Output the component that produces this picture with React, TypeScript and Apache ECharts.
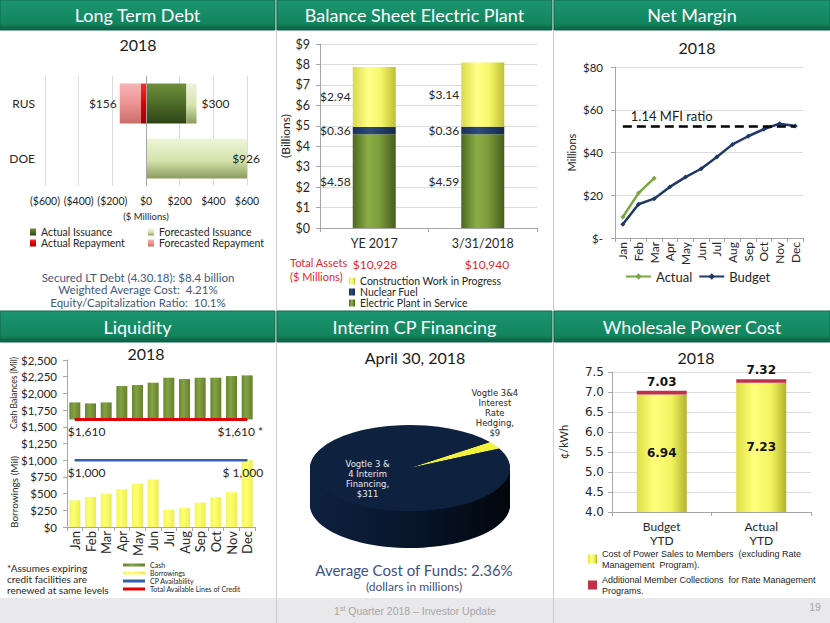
import React, { useEffect, useRef } from "react";
import * as echarts from "echarts";

// ---------- Long Term Debt ($ millions) ----------
const debtCategories = ["RUS", "DOE"];
const actualIssuance = [240, 0];
const forecastedIssuance = [60, 926];
const actualRepayment = [-30, 0];
const forecastedRepayment = [-126, 0];

// ---------- Balance Sheet Electric Plant ($ billions) ----------
const plantCategories = ["YE 2017", "3/31/2018"];
const electricPlantInService = [4.58, 4.59];
const nuclearFuel = [0.36, 0.36];
const constructionWork = [2.94, 3.14];
const totalAssets = ["$10,928", "$10,940"];

// ---------- Net Margin ($ millions) ----------
const months = ["Jan", "Feb", "Mar", "Apr", "May", "Jun", "Jul", "Aug", "Sep", "Oct", "Nov", "Dec"];
const netMarginActual = [9.8, 21.0, 28.0];
const netMarginBudget = [6.4, 15.8, 18.4, 23.9, 28.5, 32.4, 37.9, 43.8, 47.6, 50.9, 53.5, 52.4];
const mfiRatioLevel = 52.3;

// ---------- Liquidity ($ millions) ----------
const cashBalances = [1865, 1850, 1865, 2110, 2125, 2160, 2235, 2215, 2235, 2235, 2260, 2270];
const borrowings = [400, 450, 500, 565, 650, 710, 260, 285, 365, 445, 520, 1000];
const cpAvailability = [1000, 1000, 1000, 1000, 1000, 1000, 1000, 1000, 1000, 1000, 1000, 1000];
const creditLines = [1610, 1610, 1610, 1610, 1610, 1610, 1610, 1610, 1610, 1610, 1610, 1610];

// ---------- Interim CP Financing ($ millions) ----------
const cpLabels = ["Vogtle 3&4\nInterest\nRate\nHedging,", "Vogtle 3 &\n4 Interim\nFinancing,"];
const cpValues = [9, 311];

// ---------- Wholesale Power Cost (cents/kWh) ----------
const powerCategories = ["Budget\nYTD", "Actual\nYTD"];
const powerCost = [6.94, 7.23];
const rateManagement = [0.09, 0.09];

const F = "Lato, 'Noto Sans', sans-serif";
const V = "'DejaVu Sans', Verdana, sans-serif";
const A = "'Liberation Sans', Arial, sans-serif";
const AX = "#262626";

function lg(stops: [number, string][], horizontal = false): any {
  return {
    type: "linear",
    x: 0,
    y: 0,
    x2: horizontal ? 1 : 0,
    y2: horizontal ? 0 : 1,
    colorStops: stops.map(([offset, color]) => ({ offset, color })),
  };
}

function txt(x: number, y: number, text: string, font: string, fill: string, align = "center", extra: any = {}) {
  return {
    type: "text",
    x,
    y,
    z: 5,
    style: { text, font, fill, textAlign: align, textVerticalAlign: "middle", ...extra },
    silent: true,
  };
}

const legendNames: Record<string, string> = {
  "Cost of Power Sales to Members (excluding Rate Management Program).":
    "Cost of Power Sales to Members  (excluding Rate\nManagement  Program).",
  "Additional Member Collections for Rate Management Programs.":
    "Additional Member Collections  for Rate Management\nPrograms.",
};

function buildOption(): any {
  const headerFill = lg([
    [0, "#1c9670"],
    [0.8, "#12845e"],
    [1, "#0a5c40"],
  ]);
  const headers: [number, number, number, number, string][] = [
    [0, 0, 275, 30, "Long Term Debt"],
    [277, 0, 275, 30, "Balance Sheet Electric Plant"],
    [554, 0, 276, 30, "Net Margin"],
    [0, 311, 275, 31, "Liquidity"],
    [277, 311, 275, 31, "Interim CP Financing"],
    [554, 311, 276, 31, "Wholesale Power Cost"],
  ];
  const graphic: any[] = [];
  graphic.push({ type: "rect", shape: { x: 0, y: 598, width: 830, height: 25 }, style: { fill: "#e9e9ec" }, silent: true });
  [276.5, 553.5].forEach((x) =>
    graphic.push({ type: "line", shape: { x1: x, y1: 0, x2: x, y2: 623 }, style: { stroke: "#cccccc", lineWidth: 1 }, silent: true })
  );
  headers.forEach(([x, y, w, h, t]) => {
    graphic.push({ type: "rect", shape: { x, y, width: w, height: h }, style: { fill: headerFill, stroke: "#0c6a4a", lineWidth: 1 }, silent: true });
    graphic.push(txt(x + w / 2, y + h / 2, t, `18px ${F}`, "#ffffff"));
  });
  // subtitles
  graphic.push(txt(138, 44, "2018", `16px ${F}`, "#1a1a1a"));
  graphic.push(txt(697, 47, "2018", `16px ${F}`, "#1a1a1a"));
  graphic.push(txt(146, 353, "2018", `16px ${F}`, "#1a1a1a"));
  graphic.push(txt(415, 357, "April 30, 2018", `16px ${F}`, "#1a1a1a"));
  graphic.push(txt(696, 357, "2018", `16px ${F}`, "#1a1a1a"));
  // LTD notes
  graphic.push(txt(138, 277, "Secured LT Debt (4.30.18): $8.4 billion", `11.5px ${F}`, "#44577e"));
  graphic.push(txt(138, 289.5, "Weighted Average Cost:  4.21%", `11.5px ${F}`, "#44577e"));
  graphic.push(txt(138, 302, "Equity/Capitalization Ratio:  10.1%", `11.5px ${F}`, "#44577e"));
  // Balance sheet totals
  graphic.push(txt(290, 262, "Total Assets", `11px ${F}`, "#e8262a", "left"));
  graphic.push(txt(290, 276, "($ Millions)", `11px ${F}`, "#e8262a", "left"));
  graphic.push(txt(375, 264, totalAssets[0], `12px ${F}`, "#e8262a"));
  graphic.push(txt(487, 264, totalAssets[1], `12px ${F}`, "#e8262a"));
  // Liquidity axis names + footnote
  graphic.push({ ...txt(14, 393, "Cash Balances (Mil)", `8.5px ${F}`, AX), rotation: Math.PI / 2 });
  graphic.push({ ...txt(14, 492, "Borrowings (Mil)", `10px ${F}`, AX), rotation: Math.PI / 2 });
  graphic.push(txt(7, 568, "*Assumes expiring", `10px ${F}`, AX, "left"));
  graphic.push(txt(7, 579, "credit facilities are", `10px ${F}`, AX, "left"));
  graphic.push(txt(7, 590, "renewed at same levels", `10px ${F}`, AX, "left"));
  // CP notes
  graphic.push(txt(414, 570, "Average Cost of Funds: 2.36%", `15px ${F}`, "#3d5283"));
  graphic.push(txt(414, 586, "(dollars in millions)", `12px ${F}`, "#3d5283"));
  // footer
  graphic.push({
    type: "text",
    x: 415,
    y: 611,
    z: 5,
    silent: true,
    style: {
      text: "{a|1}{b|st}{a| Quarter 2018 – Investor Update}",
      textAlign: "center",
      textVerticalAlign: "middle",
      rich: {
        a: { fontSize: 10.5, fontFamily: A, fill: "#a6a6a6", color: "#a6a6a6", lineHeight: 12 },
        b: { fontSize: 7, fontFamily: A, fill: "#a6a6a6", color: "#a6a6a6", verticalAlign: "top", lineHeight: 12 },
      },
    },
  });
  graphic.push(txt(815, 607, "19", `10.5px ${A}`, "#a6a6a6"));

  const axisLine = { show: true, lineStyle: { color: "#a6a6a6" } };
  const axisTick = { show: true, length: 4, lineStyle: { color: "#a6a6a6" } };
  const split = { show: true, lineStyle: { color: "#dcdcdc" } };

  const plantLabel = {
    show: true,
    position: "left",
    distance: 2,
    formatter: (p: any) => "$" + Number(p.value).toFixed(2),
    color: AX,
    fontSize: 12,
    fontFamily: F,
  };

  const greenCyl = lg([[0, "#4d681d"], [0.35, "#8cad46"], [0.6, "#7f9e3c"], [1, "#465f1a"]], true);
  const yellowCyl = lg([[0, "#d9d948"], [0.35, "#ffff88"], [0.65, "#f6f66a"], [1, "#bfbf35"]], true);
  const navyCyl = lg([[0, "#1a3058"], [0.4, "#2c4a7c"], [1, "#15294c"]], true);

  const lineLabel = (vals: number[], leftFmt: (v: number) => string, rightFmt: (v: number) => string) =>
    vals.map((v, i) => {
      if (i === 0)
        return { value: v, label: { show: true, position: "bottom", align: "left", distance: 6, offset: [-7, 0], formatter: leftFmt(v) } };
      if (i === vals.length - 1)
        return { value: v, label: { show: true, position: "bottom", align: "right", distance: 6, offset: [16, 0], formatter: rightFmt(v) } };
      return v;
    });
  const money = (v: number) => v.toLocaleString("en-US");

  const cpCenter = [410, 468];
  const cpRadius = 100;
  const cpTilt = 0.43;
  const cpDepth = 37;
  const cpStartDeg = 37;
  const cpTop = ["#f2f23c", "#0e2240"];
  const cpSide = [
    lg([[0, "#c9c92a"], [1, "#8a8a10"]], true),
    lg([[0, "#0e2140"], [0.5, "#08162b"], [1, "#02060c"]], true),
  ];

  const series: any[] = [
    // Long term debt
    {
      name: "Actual Issuance",
      type: "bar",
      xAxisIndex: 0,
      yAxisIndex: 0,
      stack: "ltd",
      barWidth: 40,
      data: actualIssuance,
      itemStyle: { color: lg([[0, "#6f8f3d"], [0.45, "#51702a"], [1, "#2f4316"]]) },
      markLine: {
        silent: true,
        symbol: "none",
        label: { show: false },
        lineStyle: { color: "#a6a6a6", width: 1, type: "solid" },
        data: [{ xAxis: 0 }],
      },
    },
    {
      name: "Forecasted Issuance",
      type: "bar",
      xAxisIndex: 0,
      yAxisIndex: 0,
      stack: "ltd",
      barWidth: 40,
      itemStyle: { color: lg([[0, "#eef5da"], [0.55, "#d3e3ab"], [1, "#8c9c5c"]]) },
      label: {
        show: true,
        color: AX,
        fontSize: 12,
        fontFamily: F,
        formatter: (p: any) => "$" + (actualIssuance[p.dataIndex] + forecastedIssuance[p.dataIndex]),
      },
      data: forecastedIssuance.map((v, i) => ({
        value: v,
        label: i === 0 ? { position: "right", distance: 5 } : { position: "insideRight", offset: [18, 0] },
      })),
    },
    {
      name: "Actual Repayment",
      type: "bar",
      xAxisIndex: 0,
      yAxisIndex: 0,
      stack: "ltd",
      barWidth: 40,
      data: actualRepayment,
      itemStyle: { color: lg([[0, "#ff2a2a"], [0.5, "#e00000"], [1, "#9c0000"]]) },
    },
    {
      name: "Forecasted Repayment",
      type: "bar",
      xAxisIndex: 0,
      yAxisIndex: 0,
      stack: "ltd",
      barWidth: 40,
      itemStyle: { color: lg([[0, "#f6b4b4"], [0.5, "#ee9393"], [1, "#c96c6c"]]) },
      data: forecastedRepayment.map((v, i) => ({
        value: v,
        label: {
          show: v !== 0,
          position: "left",
          distance: 3,
          color: AX,
          fontSize: 12,
          fontFamily: F,
          formatter: "$" + -(actualRepayment[i] + forecastedRepayment[i]),
        },
      })),
    },
    // Balance sheet
    {
      name: "Electric Plant in Service",
      type: "bar",
      xAxisIndex: 1,
      yAxisIndex: 1,
      stack: "plant",
      barWidth: 43,
      data: electricPlantInService,
      itemStyle: { color: greenCyl },
      label: plantLabel,
    },
    {
      name: "Nuclear Fuel",
      type: "bar",
      xAxisIndex: 1,
      yAxisIndex: 1,
      stack: "plant",
      barWidth: 43,
      data: nuclearFuel,
      itemStyle: { color: navyCyl },
      label: plantLabel,
    },
    {
      name: "Construction Work in Progress",
      type: "bar",
      xAxisIndex: 1,
      yAxisIndex: 1,
      stack: "plant",
      barWidth: 43,
      data: constructionWork,
      itemStyle: { color: yellowCyl },
      label: plantLabel,
    },
    // Net margin
    {
      name: "Actual",
      type: "line",
      xAxisIndex: 2,
      yAxisIndex: 2,
      data: netMarginActual,
      color: "#7aa843",
      lineStyle: { width: 2.5 },
      symbol: "diamond",
      symbolSize: 5,
      z: 4,
    },
    {
      name: "Budget",
      type: "line",
      xAxisIndex: 2,
      yAxisIndex: 2,
      data: netMarginBudget,
      color: "#1f3864",
      lineStyle: { width: 2.5 },
      symbol: "diamond",
      symbolSize: 5,
      z: 3,
      markLine: {
        silent: true,
        symbol: "none",
        lineStyle: { color: "#000000", type: [9, 5], width: 2.5 },
        label: {
          show: true,
          position: "insideStartTop",
          formatter: "1.14 MFI ratio",
          color: "#1a1a1a",
          fontSize: 13,
          fontFamily: F,
          distance: [8, 4],
        },
        data: [[{ coord: ["Jan", mfiRatioLevel] }, { coord: ["Dec", mfiRatioLevel] }]],
      },
    },
    // Liquidity
    {
      name: "cashBase",
      type: "bar",
      xAxisIndex: 3,
      yAxisIndex: 3,
      stack: "cash",
      barWidth: 11,
      barGap: "-100%",
      silent: true,
      data: creditLines,
      itemStyle: { color: "rgba(0,0,0,0)" },
    },
    {
      name: "Cash",
      type: "bar",
      xAxisIndex: 3,
      yAxisIndex: 3,
      stack: "cash",
      barWidth: 11,
      barGap: "-100%",
      data: cashBalances.map((v, i) => v - creditLines[i]),
      itemStyle: { color: lg([[0, "#6a8630"], [0.4, "#82a243"], [1, "#677f2d"]], true) },
    },
    {
      name: "Borrowings",
      type: "bar",
      xAxisIndex: 3,
      yAxisIndex: 3,
      barWidth: 11,
      barGap: "-100%",
      data: borrowings,
      itemStyle: { color: lg([[0, "#f5f560"], [0.4, "#ffff70"], [1, "#eded55"]], true) },
    },
    {
      name: "CP Availability",
      type: "line",
      xAxisIndex: 3,
      yAxisIndex: 3,
      color: "#2f63ad",
      lineStyle: { width: 2.5 },
      symbol: "circle",
      symbolSize: 1,
      z: 5,
      label: { color: AX, fontSize: 12, fontFamily: F },
      data: lineLabel(cpAvailability, (v) => "$" + money(v), (v) => "$ " + money(v)),
    },
    {
      name: "Total Available Lines of Credit",
      type: "line",
      xAxisIndex: 3,
      yAxisIndex: 3,
      color: "#e00000",
      lineStyle: { width: 3 },
      symbol: "circle",
      symbolSize: 1,
      z: 5,
      label: { color: AX, fontSize: 12, fontFamily: F },
      data: lineLabel(creditLines, (v) => "$" + money(v), (v) => "$" + money(v) + " *"),
    },
    // Interim CP pie (tilted)
    {
      name: "Interim CP",
      type: "custom",
      coordinateSystem: "none",
      silent: true,
      data: cpValues,
      renderItem: (params: any, api: any) => {
        const i = params.dataIndex;
        const total = cpValues.reduce((s, v) => s + v, 0);
        const before = cpValues.slice(0, i).reduce((s, v) => s + v, 0);
        const value = api.value(0);
        const a0 = ((-cpStartDeg + (before / total) * 360) * Math.PI) / 180;
        const a1 = ((-cpStartDeg + ((before + value) / total) * 360) * Math.PI) / 180;
        const [cx, cy] = cpCenter;
        const disk: any[] = [];
        for (let d = cpDepth; d >= 1; d--) {
          disk.push({
            type: "sector",
            z2: 1,
            shape: { cx: 0, cy: d / cpTilt, r: cpRadius, r0: 0, startAngle: a0, endAngle: a1, clockwise: true },
            style: { fill: cpSide[i] },
          });
        }
        disk.push({
          type: "sector",
          z2: 10,
          shape: { cx: 0, cy: 0, r: cpRadius, r0: 0, startAngle: a0, endAngle: a1, clockwise: true },
          style: { fill: cpTop[i] },
        });
        const mid = (a0 + a1) / 2;
        const inside = value / total > 0.1;
        const lr = inside ? cpRadius * 0.5 : cpRadius;
        const lx = cx + Math.cos(mid) * lr;
        const ly = cy + Math.sin(mid) * lr * cpTilt;
        return {
          type: "group",
          children: [
            { type: "group", x: cx, y: cy, scaleY: cpTilt, children: disk },
            {
              type: "text",
              z2: 20,
              x: lx,
              y: inside ? ly : ly - 7,
              style: {
                text: `${cpLabels[i]}\n$${value}`,
                fill: inside ? "#e6e9ef" : "#262626",
                font: `8.5px ${V}`,
                textAlign: "center",
                textVerticalAlign: inside ? "middle" : "bottom",
                lineHeight: 10,
              },
            },
          ],
        };
      },
    },
    // Wholesale power cost
    {
      name: "Cost of Power Sales to Members (excluding Rate Management Program).",
      type: "bar",
      xAxisIndex: 4,
      yAxisIndex: 4,
      stack: "wpc",
      barWidth: 50,
      data: powerCost,
      itemStyle: { color: lg([[0, "#dede45"], [0.35, "#ffff7c"], [0.7, "#f2f260"], [1, "#b4b42c"]], true) },
      label: {
        show: true,
        position: "inside",
        formatter: (p: any) => Number(p.value).toFixed(2),
        fontFamily: V,
        fontWeight: "bold",
        fontSize: 12,
        color: "#111111",
      },
    },
    {
      name: "Additional Member Collections for Rate Management Programs.",
      type: "bar",
      xAxisIndex: 4,
      yAxisIndex: 4,
      stack: "wpc",
      barWidth: 50,
      data: rateManagement,
      itemStyle: { color: "#c0304a" },
      label: {
        show: true,
        position: "top",
        distance: 3,
        formatter: (p: any) => (powerCost[p.dataIndex] + Number(p.value)).toFixed(2),
        fontFamily: V,
        fontWeight: "bold",
        fontSize: 12,
        color: "#111111",
      },
    },
  ];

  return {
    animation: false,
    backgroundColor: "#ffffff",
    textStyle: { fontFamily: F },
    graphic,
    grid: [
      { left: 45, top: 76, width: 202, height: 110 },
      { left: 320, top: 44, width: 217, height: 184 },
      { left: 615, top: 67, width: 188, height: 171 },
      { left: 67, top: 360, width: 188, height: 167 },
      { left: 612, top: 372, width: 199, height: 140 },
    ],
    xAxis: [
      {
        type: "value",
        gridIndex: 0,
        min: -600,
        max: 600,
        interval: 200,
        axisLine: { show: false },
        axisTick: { show: false },
        splitLine: split,
        axisLabel: {
          color: AX,
          fontSize: 10.5,
          fontFamily: F,
          margin: 9,
          formatter: (v: number) => (v < 0 ? `($${-v})` : `$${v}`),
        },
        name: "($ Millions)",
        nameLocation: "middle",
        nameGap: 25,
        nameTextStyle: { color: AX, fontSize: 9.5, fontFamily: F },
      },
      {
        type: "category",
        gridIndex: 1,
        data: plantCategories,
        axisLine,
        axisTick,
        axisLabel: { color: AX, fontSize: 12.5, fontFamily: F, margin: 9 },
      },
      {
        type: "category",
        gridIndex: 2,
        data: months,
        axisLine,
        axisTick: { ...axisTick, interval: 0 },
        axisLabel: { color: AX, fontSize: 12, fontFamily: F, rotate: 90, margin: 4, interval: 0 },
      },
      {
        type: "category",
        gridIndex: 3,
        data: months,
        axisLine,
        axisTick: { ...axisTick, interval: 0 },
        axisLabel: { color: AX, fontSize: 13, fontFamily: F, rotate: 90, margin: 4, interval: 0 },
      },
      {
        type: "category",
        gridIndex: 4,
        data: powerCategories,
        axisLine,
        axisTick,
        axisLabel: { color: AX, fontSize: 12, fontFamily: F, margin: 7, lineHeight: 14 },
      },
    ],
    yAxis: [
      {
        type: "category",
        gridIndex: 0,
        data: debtCategories,
        inverse: true,
        axisLine: { show: false },
        axisTick: { show: false },
        axisLabel: { color: AX, fontSize: 12, fontFamily: F, margin: 10 },
      },
      {
        type: "value",
        gridIndex: 1,
        min: 0,
        max: 9,
        interval: 1,
        axisLine,
        axisTick,
        splitLine: split,
        axisLabel: { color: AX, fontSize: 12.5, fontFamily: F, margin: 10, formatter: (v: number) => "$" + v },
        name: "(Billions)",
        nameLocation: "middle",
        nameRotate: 90,
        nameGap: 22,
        nameTextStyle: { color: AX, fontSize: 12, fontFamily: F },
      },
      {
        type: "value",
        gridIndex: 2,
        min: 0,
        max: 80,
        interval: 20,
        axisLine,
        axisTick,
        splitLine: split,
        axisLabel: { color: AX, fontSize: 11.5, fontFamily: F, margin: 12, formatter: (v: number) => (v === 0 ? "$-" : "$" + v) },
        name: "Millions",
        nameLocation: "middle",
        nameRotate: 90,
        nameGap: 38,
        nameTextStyle: { color: AX, fontSize: 11, fontFamily: F },
      },
      {
        type: "value",
        gridIndex: 3,
        min: 0,
        max: 2500,
        interval: 250,
        axisLine,
        axisTick,
        splitLine: { show: false },
        axisLabel: { color: AX, fontSize: 11.5, fontFamily: F, margin: 10, formatter: (v: number) => "$" + money(v) },
      },
      {
        type: "value",
        gridIndex: 4,
        min: 4,
        max: 7.5,
        interval: 0.5,
        axisLine,
        axisTick,
        splitLine: split,
        axisLabel: { color: AX, fontSize: 12, fontFamily: V, margin: 8, formatter: (v: number) => v.toFixed(1) },
        name: "¢/kWh",
        nameLocation: "middle",
        nameRotate: 90,
        nameGap: 43,
        nameTextStyle: { color: AX, fontSize: 11, fontFamily: F },
      },
    ],
    legend: [
      {
        left: 30, top: 226.5, padding: 0, orient: "vertical", icon: "rect", itemWidth: 6, itemHeight: 7, itemGap: 0,
        selectedMode: false, data: ["Actual Issuance", "Actual Repayment"],
        textStyle: { color: AX, fontSize: 10.5, fontFamily: F, lineHeight: 11 },
      },
      {
        left: 148, top: 226.5, padding: 0, orient: "vertical", icon: "rect", itemWidth: 6, itemHeight: 7, itemGap: 0,
        selectedMode: false, data: ["Forecasted Issuance", "Forecasted Repayment"],
        textStyle: { color: AX, fontSize: 10.5, fontFamily: F, lineHeight: 11 },
      },
      {
        left: 349, top: 275.5, padding: 0, orient: "vertical", icon: "rect", itemWidth: 6, itemHeight: 7, itemGap: 0,
        selectedMode: false, data: ["Construction Work in Progress", "Nuclear Fuel", "Electric Plant in Service"],
        textStyle: { color: AX, fontSize: 10.5, fontFamily: F, lineHeight: 11 },
      },
      {
        left: 625, top: 270, padding: 0, orient: "horizontal", itemWidth: 25, itemHeight: 8, itemGap: 6,
        selectedMode: false, data: ["Actual", "Budget"],
        textStyle: { color: AX, fontSize: 13, fontFamily: F },
      },
      {
        left: 123, top: 561, padding: 0, orient: "vertical", icon: "rect", itemWidth: 22, itemHeight: 3, itemGap: 0,
        selectedMode: false, data: ["Cash", "Borrowings", "CP Availability", "Total Available Lines of Credit"],
        textStyle: { color: AX, fontSize: 7, fontFamily: F, lineHeight: 8 },
      },
      {
        left: 588, top: 548, padding: 0, orient: "vertical", icon: "rect", itemWidth: 9, itemHeight: 9, itemGap: 4,
        selectedMode: false,
        data: [
          "Cost of Power Sales to Members (excluding Rate Management Program).",
          "Additional Member Collections for Rate Management Programs.",
        ],
        formatter: (n: string) => legendNames[n] || n,
        textStyle: { color: AX, fontSize: 9, fontFamily: A, lineHeight: 11 },
      },
    ],
    series,
  };
}

export default function App() {
  const ref = useRef<HTMLDivElement>(null);
  useEffect(() => {
    document.body.style.margin = "0";
    const chart = echarts.init(ref.current as HTMLDivElement, undefined, { renderer: "svg" });
    chart.setOption(buildOption());
    return () => chart.dispose();
  }, []);
  return <div ref={ref} style={{ width: 830, height: 623 }} />;
}
